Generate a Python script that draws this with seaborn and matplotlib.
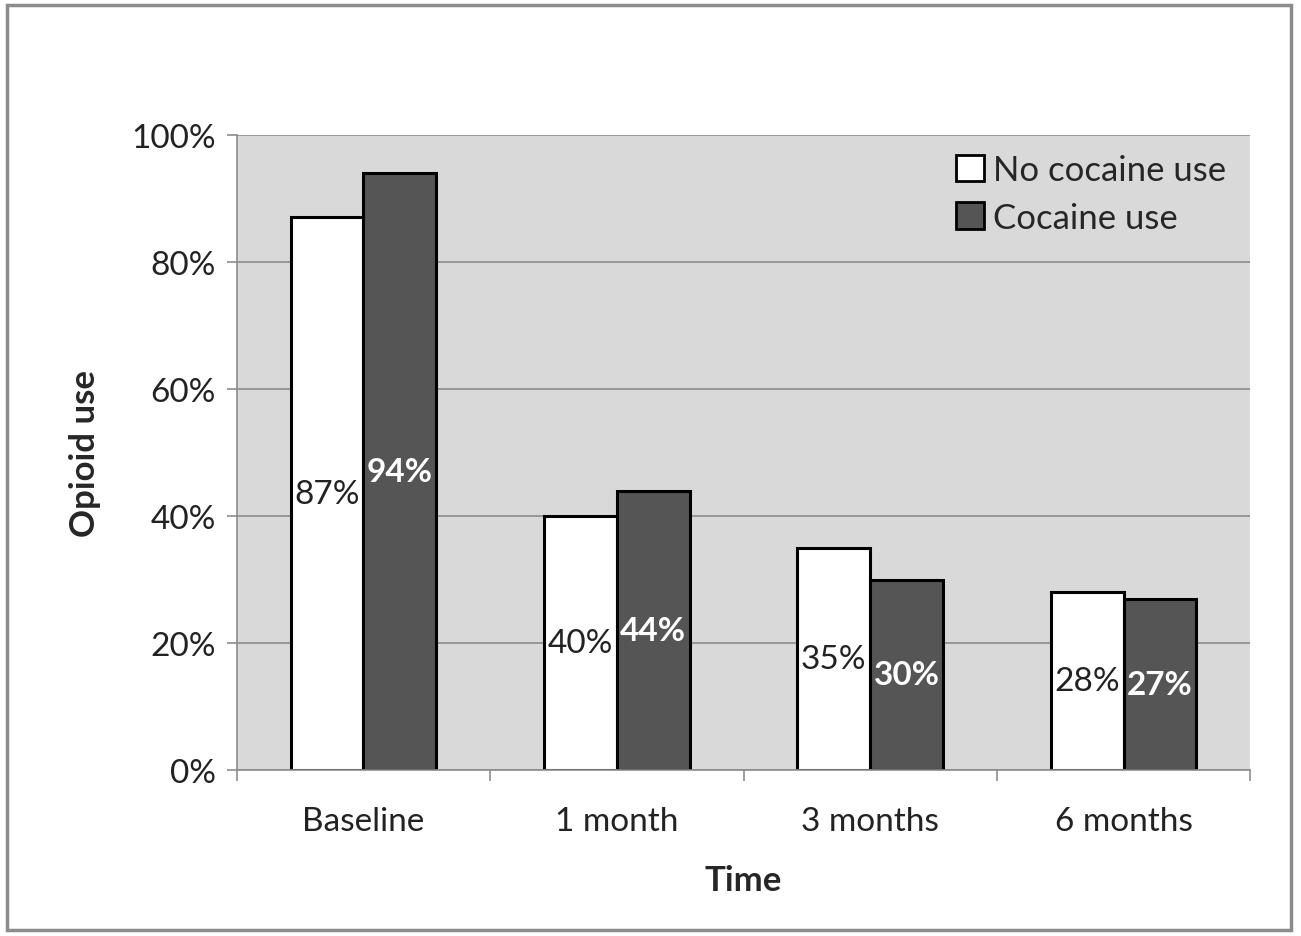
import matplotlib
matplotlib.use("Agg")
import matplotlib.pyplot as plt
import matplotlib.patches as mpatches
from matplotlib.ticker import FixedLocator, FuncFormatter
import seaborn as sns
import pandas as pd

# Share of participants reporting opioid use at each follow-up
timepoints = ["Baseline", "1 month", "3 months", "6 months"]
groups = ["No cocaine use", "Cocaine use"]
no_cocaine = [87, 40, 35, 28]
cocaine = [94, 44, 30, 27]

df = pd.DataFrame({
    "Time": timepoints * 2,
    "Group": [groups[0]] * 4 + [groups[1]] * 4,
    "Opioid use": no_cocaine + cocaine,
})

sns.set_theme(style="white")
plt.rcParams["font.family"] = ["Lato", "DejaVu Sans"]

fig = plt.figure(figsize=(13.01, 9.37), dpi=100)
ax = fig.add_axes([0.182, 0.177, 0.779, 0.678])
ax.set_facecolor("#d9d9d9")

sns.barplot(
    data=df, x="Time", y="Opioid use", hue="Group",
    order=timepoints, hue_order=groups,
    palette=["#ffffff", "#555555"], width=0.575,
    edgecolor="black", linewidth=2.2, saturation=1, ax=ax,
)

ax.set_ylim(0, 100)
ax.set_xlim(-0.5, 3.5)
ax.yaxis.set_major_locator(FixedLocator([0, 20, 40, 60, 80, 100]))
ax.yaxis.set_major_formatter(FuncFormatter(lambda v, _: f"{v:.0f}%"))
ax.grid(axis="y", color="#8c8c8c", linewidth=1.2)
ax.set_axisbelow(True)

for s in ["top", "right"]:
    ax.spines[s].set_visible(False)
for s in ["left", "bottom"]:
    ax.spines[s].set_color("#8c8c8c")
    ax.spines[s].set_linewidth(1.2)

ax.tick_params(axis="y", which="major", direction="out", length=7, width=1.2,
               color="#8c8c8c", labelsize=24, pad=8, left=True)
ax.tick_params(axis="x", which="major", length=0, labelsize=24, pad=26)
ax.set_xticks([-0.5, 0.5, 1.5, 2.5, 3.5], minor=True)
ax.tick_params(axis="x", which="minor", direction="out", length=8, width=1.2,
               color="#8c8c8c", bottom=True)
for lbl in ax.get_xticklabels() + ax.get_yticklabels():
    lbl.set_color("#222222")

ax.set_xlabel("Time", fontsize=25, fontweight="bold", labelpad=20)
ax.set_ylabel("Opioid use", fontsize=25, fontweight="bold", labelpad=22)

# Value labels centred inside each bar
ax.bar_label(ax.containers[0], labels=[f"{v}%" for v in no_cocaine],
             label_type="center", fontsize=24, color="#222222")
ax.bar_label(ax.containers[1], labels=[f"{v}%" for v in cocaine],
             label_type="center", fontsize=24, color="white", fontweight="bold")

handles = [
    mpatches.Patch(facecolor="#ffffff", edgecolor="black", linewidth=2),
    mpatches.Patch(facecolor="#555555", edgecolor="black", linewidth=2),
]
ax.legend(handles, groups, loc="upper right", bbox_to_anchor=(1.0, 1.008),
          frameon=False, fontsize=25, handlelength=0.8, handleheight=0.8,
          handletextpad=0.25, labelspacing=0.45, borderaxespad=0.3)

# Outer chart border
fig.patches.append(mpatches.Rectangle(
    (0.005, 0.006), 0.987, 0.988, transform=fig.transFigure,
    fill=False, edgecolor="#8c8c8c", linewidth=2.5))

fig.savefig("out.png", dpi=100)
